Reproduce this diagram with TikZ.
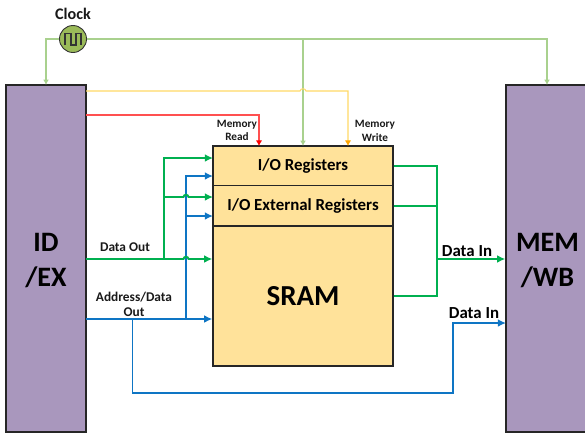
\documentclass[tikz,border=0pt]{standalone}
\usepackage{fontspec}
\setmainfont{Carlito}
\usetikzlibrary{arrows.meta}
\definecolor{blockpurple}{HTML}{A997BD}
\definecolor{memyellow}{HTML}{FFE29A}
\definecolor{clockgreen}{HTML}{9BBB59}
\definecolor{wiregreen}{HTML}{A9D18E}
\definecolor{wireyellow}{HTML}{FFD966}
\definecolor{wirered}{HTML}{FF5050}
\definecolor{datagreen}{HTML}{00B050}
\definecolor{datablue}{HTML}{0E75C4}
\tikzset{
	block/.style={draw=black!85,line width=0.8pt,fill=blockpurple,inner sep=0pt,align=center,font=\fontsize{16}{19.5}\selectfont\bfseries},
	membox/.style={draw=black!85,line width=0.8pt,fill=memyellow,inner sep=0pt,minimum width=3.6cm},
	lbl/.style={inner sep=0pt,align=center,text=black!90,font=\fontsize{6.4}{7.7}\selectfont\bfseries},
	biglbl/.style={inner sep=0pt,font=\fontsize{9.6}{11}\selectfont\bfseries},
	clk/.style={line width=0.6pt,wiregreen,-{Latex[length=3pt,width=3.2pt]}},
	ctl/.style={line width=0.6pt},
	dat/.style={line width=1.1pt,-{Latex[length=4.6pt,width=4.4pt]}},
	datline/.style={line width=1.1pt}
}

\begin{document}
\begin{tikzpicture}[x=0.02cm,y=-0.02cm]
	%%%%% START %%%%%
	\useasboundingbox (0,0) rectangle (585,434);
	
	\node[block,minimum width=1.6cm,minimum height=6.94cm] (idex) at (46,258.5) {};
	\node[block,minimum width=1.66cm,minimum height=6.94cm] (memwb) at (547.5,258.5) {};
	\node[inner sep=0pt,align=center,font=\fontsize{16}{19.5}\selectfont\bfseries] (idextxt) at (46,260.5) {ID\\/EX};
	\node[inner sep=0pt,align=center,font=\fontsize{16}{19.5}\selectfont\bfseries] (memwbtxt) at (547.5,260.5) {MEM\\/WB};
	
	\node[membox,minimum height=0.79cm] (iores) at (303,165.75) {};
	\node[membox,minimum height=0.81cm] (ioext) at (303,205.75) {};
	\node[membox,minimum height=2.8cm] (sram) at (303,296) {};
	\node[biglbl] (iorestxt) at (303,166) {I/O Registers};
	\node[biglbl] (ioexttxt) at (303,206) {I/O External Registers};
	\node[inner sep=0pt,font=\fontsize{16.5}{18}\selectfont\bfseries] (sramtxt) at (303,296) {SRAM};
	
	\node[circle,draw=black!80,line width=0.5pt,fill=clockgreen,minimum size=0.54cm,inner sep=0pt] (clock) at (73,39) {};
	\draw[black!80,line width=0.6pt] (65,45) -- (65,33.5) -- (71,33.5) -- (71,45) -- (76,45) -- (76,33.5) -- (81,33.5) -- (81,45);
	
	\node[lbl,font=\fontsize{9.2}{11}\selectfont\bfseries] (clocklbl) at (73,14) {Clock};
	\node[lbl] (readlbl) at (237,130.5) {Memory\\Read};
	\node[lbl] (writelbl) at (375,131) {Memory\\Write};
	\node[lbl,font=\fontsize{7.6}{8}\selectfont\bfseries] (dolbl) at (125,247) {Data Out};
	\node[lbl,font=\fontsize{7.6}{8.5}\selectfont\bfseries] (adolbl) at (134,304) {Address/Data\\Out};
	\node[biglbl] (dinlbl) at (467,251) {Data In};
	\node[biglbl] (dinlblb) at (474,313) {Data In};
	
	% clock
	\coordinate (clkin) at (46,85);
	\coordinate (clkout) at (547,85);
	\coordinate (clkmem) at (303,146);
	\coordinate (clktee) at (303,39);
	\draw[clk] (clock.west) -| (clkin);
	\draw[clk] (clock.east) -| (clkout);
	\draw[clk] (clktee) -- (clkmem);
	
	% memory write and read
	\coordinate (wrfrom) at (86,91);
	\coordinate (wrhopa) at (300,91);
	\coordinate (wrhopb) at (306,91);
	\coordinate (wrto) at (348,146);
	\draw[ctl,wireyellow,-{Latex[length=3.2pt,width=3.6pt,color=orange!70!yellow]}] (wrfrom) -- (wrhopa) .. controls (300.5,88) and (305.5,88) .. (wrhopb) -| (wrto);
	\coordinate (rdfrom) at (86,115);
	\coordinate (rdto) at (259,146);
	\draw[ctl,wirered,-{Latex[length=3.2pt,width=3.6pt,color=red]}] (rdfrom) -| (rdto);
	
	% address/data out
	\coordinate (adofrom) at (86,319);
	\coordinate (adotee) at (186,319);
	\coordinate (adosplit) at (132.5,319);
	\coordinate (adoa) at (213,176);
	\coordinate (adob) at (213,216);
	\coordinate (adoc) at (186,216);
	\coordinate (adobot) at (132.5,393);
	\coordinate (adoup) at (453,393);
	\coordinate (adoin) at (506,323);
	\draw[dat,datablue] (adofrom) -- (sram.west |- adofrom);
	\draw[dat,datablue] (adotee) |- (adoa);
	\draw[dat,datablue] (adoc) -- (adob);
	\draw[dat,datablue] (adosplit) -- (adobot) -- (adoup) |- (adoin);
	
	% data out
	\coordinate (dofrom) at (86,259);
	\coordinate (dotee) at (164,259);
	\coordinate (doa) at (213,158);
	\coordinate (dob) at (213,197);
	\coordinate (doc) at (164,197);
	\coordinate (dohopa) at (183.5,197);
	\coordinate (dohopb) at (188.5,197);
	\coordinate (dohopc) at (183.5,259);
	\coordinate (dohopd) at (188.5,259);
	\draw[dat,datagreen] (dotee) |- (doa);
	\draw[dat,datagreen] (doc) -- (dohopa) .. controls (184,194) and (188,194) .. (dohopb) -- (dob);
	\draw[dat,datagreen] (dofrom) -- (dohopc) .. controls (184,256) and (188,256) .. (dohopd) -- (sram.west |- dofrom);
	
	% data in
	\coordinate (dintee) at (437,165.75);
	\coordinate (dinbot) at (437,296);
	\coordinate (dinmid) at (437,259);
	\draw[datline,datagreen] (iores.east) -- (dintee) -- (dinbot) -- (sram.east);
	\draw[datline,datagreen] (ioext.east) -- (ioext.east -| dintee);
	\draw[dat,datagreen] (dinmid) -- (memwb.west |- dinmid);
	%%%%% END %%%%%
\end{tikzpicture}
\end{document}
